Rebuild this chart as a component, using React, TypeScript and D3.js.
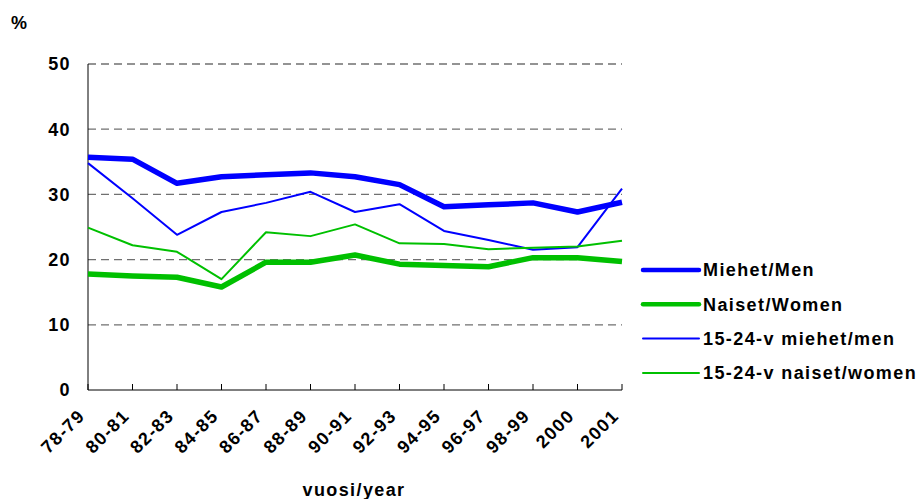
import * as d3 from 'd3';

const categories = ['78-79', '80-81', '82-83', '84-85', '86-87', '88-89', '90-91', '92-93', '94-95', '96-97', '98-99', '2000', '2001'];
const men = [35.7, 35.4, 31.7, 32.7, 33.0, 33.3, 32.7, 31.5, 28.1, 28.4, 28.7, 27.3, 28.8];
const women = [17.8, 17.5, 17.3, 15.8, 19.6, 19.6, 20.7, 19.3, 19.1, 18.9, 20.3, 20.3, 19.7];
const youngMen = [34.8, 29.4, 23.8, 27.3, 28.7, 30.4, 27.3, 28.5, 24.4, 23.0, 21.5, 21.9, 30.9];
const youngWomen = [24.9, 22.2, 21.2, 17.0, 24.2, 23.6, 25.4, 22.5, 22.4, 21.6, 21.8, 22.0, 22.9];
const yTicks = [0, 10, 20, 30, 40, 50];

const series = [
  { name: 'Miehet/Men', values: men, color: '#0000ff', width: 5.5 },
  { name: 'Naiset/Women', values: women, color: '#00c000', width: 5.5 },
  { name: '15-24-v miehet/men', values: youngMen, color: '#0000ff', width: 2 },
  { name: '15-24-v naiset/women', values: youngWomen, color: '#00c000', width: 2 },
];

const W = 919;
const H = 499;
const margin = { left: 88, right: 297, top: 64, bottom: 109 };
const font = '"Liberation Sans", Arial, sans-serif';
const txt = { fontSize: 18, fontWeight: 'bold' as const, letterSpacing: 1.4 };

export default function App() {
  const x = d3.scalePoint<string>()
    .domain(categories)
    .range([margin.left, W - margin.right]);
  const y = d3.scaleLinear()
    .domain([0, 50])
    .range([H - margin.bottom, margin.top]);

  const line = d3.line<number>()
    .x((_, i) => x(categories[i]) as number)
    .y(d => y(d));

  const x0 = margin.left;
  const x1 = W - margin.right;
  const yBase = y(0);

  return (
    <svg width={W} height={H} style={{ position: 'absolute', left: 0, top: 0, fontFamily: font }}>
      <rect width={W} height={H} fill="#fff" />

      {/* grid */}
      {yTicks.filter(t => t > 0).map(t => (
        <line key={t} x1={x0} x2={x1} y1={y(t)} y2={y(t)}
          stroke="#707070" strokeWidth={1.3} strokeDasharray="8,5" />
      ))}

      {/* axes */}
      <line x1={x0} x2={x0} y1={margin.top} y2={yBase} stroke="#000" strokeWidth={1} />
      <line x1={x0} x2={x1} y1={yBase} y2={yBase} stroke="#000" strokeWidth={1} />
      {categories.map(c => (
        <line key={c} x1={x(c)} x2={x(c)} y1={yBase} y2={yBase - 6} stroke="#000" strokeWidth={1} />
      ))}

      {yTicks.map(t => (
        <text key={t} x={71} y={y(t)} dy="0.35em" textAnchor="end" {...txt}>{t}</text>
      ))}
      <text x={11} y={29} {...txt}>%</text>

      {categories.map(c => {
        const px = (x(c) as number) - 2;
        const py = yBase + 27;
        return (
          <text key={c} x={px} y={py} textAnchor="end" {...txt}
            transform={`rotate(-45, ${px}, ${py})`}>{c}</text>
        );
      })}
      <text x={354} y={496} textAnchor="middle" {...txt}>vuosi/year</text>

      {/* lines */}
      {series.map(s => (
        <path key={s.name} d={line(s.values) ?? ''} fill="none" stroke={s.color}
          strokeWidth={s.width} strokeLinejoin="round" />
      ))}

      {/* legend */}
      {series.map((s, i) => {
        const ly = 270 + i * 34.3;
        return (
          <g key={s.name}>
            <line x1={643} x2={699} y1={ly} y2={ly} stroke={s.color} strokeWidth={s.width === 2 ? 2 : 4.5} strokeLinecap="round" />
            <text x={703} y={ly} dy="0.35em" {...txt}>{s.name}</text>
          </g>
        );
      })}
    </svg>
  );
}
